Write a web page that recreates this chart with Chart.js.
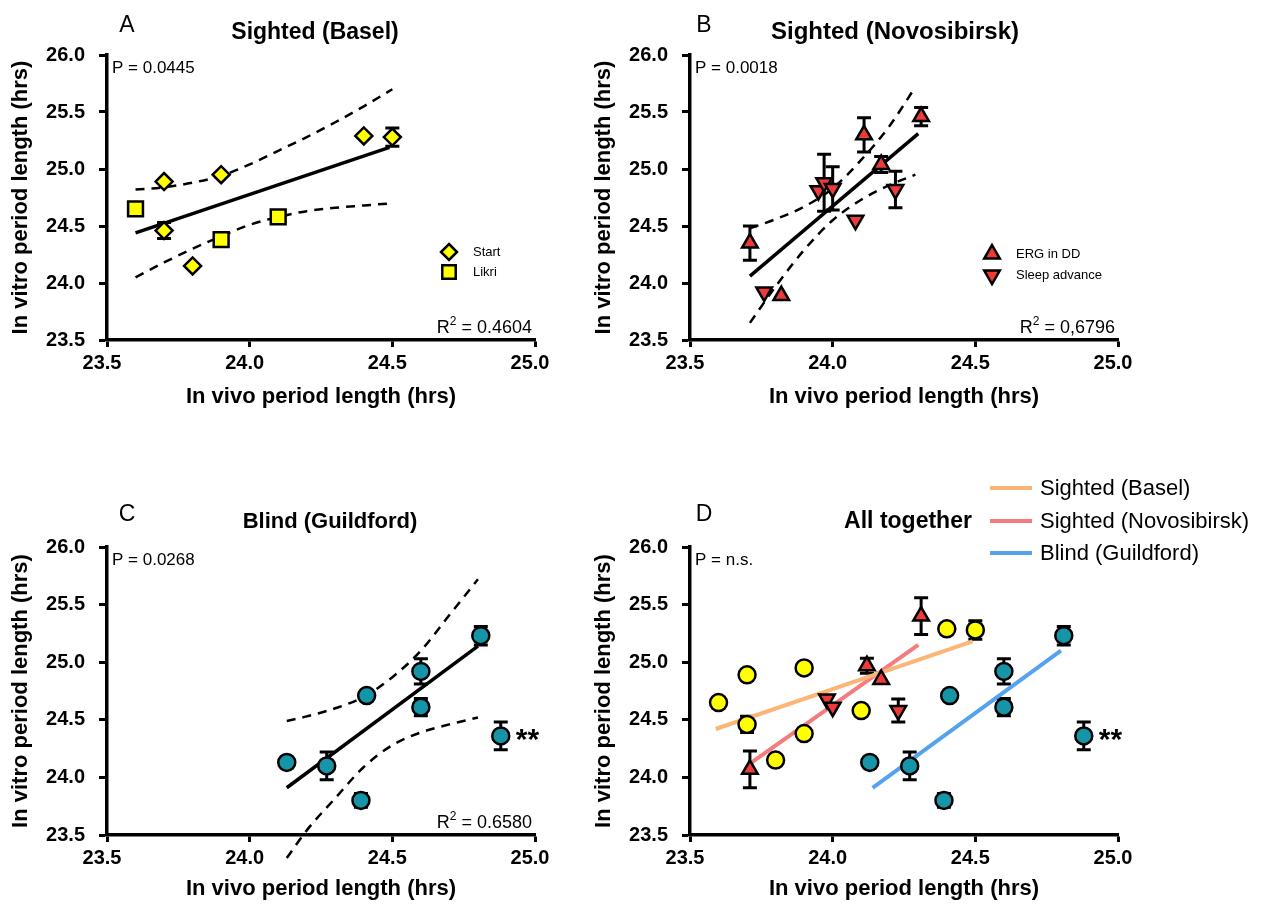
<!DOCTYPE html>
<html>
<head>
<meta charset="utf-8">
<script src="https://cdn.jsdelivr.net/npm/chart.js@4.4.1/dist/chart.umd.min.js"></script>
<style>
  body { margin: 0; background: #fff; width: 1263px; height: 908px; overflow: hidden; position: relative; }
  .panel { position: absolute; }
</style>
</head>
<body>
<div class="panel" style="left:0;top:0;width:583px;height:454px"><canvas id="chartA"></canvas></div>
<div class="panel" style="left:583px;top:0;width:680px;height:454px"><canvas id="chartB"></canvas></div>
<div class="panel" style="left:0;top:454px;width:583px;height:454px"><canvas id="chartC"></canvas></div>
<div class="panel" style="left:583px;top:454px;width:680px;height:454px"><canvas id="chartD"></canvas></div>
<script>
// ---------- A: Sighted (Basel) ----------
var baselStartX = [23.70, 23.70, 23.90, 23.80, 24.40, 24.50];
var baselStartY = [24.89, 24.46, 24.95, 24.15, 25.29, 25.28];
var baselStartErr = [0, 0.07, 0, 0, 0, 0.08];
var baselLikriX = [23.60, 23.90, 24.10];
var baselLikriY = [24.65, 24.38, 24.58];
var baselLikriErr = [0, 0, 0];
var baselFitX = [23.60, 24.49];
var baselFitY = [24.44, 25.19];
var baselCiX = [23.6, 23.7, 23.8, 23.9, 24.0, 24.1, 24.2, 24.3, 24.4, 24.5];
var baselCiUp = [24.82, 24.84, 24.88, 24.94, 25.04, 25.16, 25.28, 25.41, 25.55, 25.70];
var baselCiLow = [24.05, 24.18, 24.30, 24.41, 24.51, 24.58, 24.63, 24.66, 24.68, 24.70];

// ---------- B: Sighted (Novosibirsk) ----------
var novErgX = [23.71, 23.82, 24.11, 24.17, 24.31];
var novErgY = [24.35, 23.89, 25.30, 25.04, 25.46];
var novErgErr = [0.15, 0, 0.15, 0.07, 0.08];
var novSleepX = [23.76, 23.95, 23.97, 24.00, 24.08, 24.22];
var novSleepY = [23.92, 24.81, 24.88, 24.83, 24.55, 24.82];
var novSleepErr = [0, 0, 0.25, 0.19, 0, 0.16];
var novFitX = [23.71, 24.30];
var novFitY = [24.06, 25.31];
var novCiX = [23.71, 23.8, 23.9, 24.0, 24.1, 24.2, 24.29];
var novCiUp = [24.48, 24.56, 24.67, 24.83, 25.08, 25.38, 25.72];
var novCiLow = [23.65, 23.97, 24.29, 24.55, 24.73, 24.86, 24.95];

// ---------- C: Blind (Guildford) ----------
var blindX = [24.13, 24.27, 24.39, 24.41, 24.60, 24.60, 24.81, 24.88];
var blindY = [24.13, 24.10, 23.80, 24.71, 24.92, 24.61, 25.23, 24.36];
var blindErr = [0, 0.12, 0.06, 0, 0.11, 0.075, 0.08, 0.12];
var blindFitX = [24.13, 24.80];
var blindFitY = [23.91, 25.14];
var blindCiX = [24.13, 24.2, 24.3, 24.4, 24.5, 24.6, 24.7, 24.8];
var blindCiUp = [24.49, 24.53, 24.60, 24.70, 24.87, 25.10, 25.41, 25.72];
var blindCiLow = [23.30, 23.54, 23.82, 24.09, 24.28, 24.39, 24.46, 24.52];

// ---------- D: All together ----------
var allErgX = [23.71, 24.12, 24.17, 24.31];
var allErgY = [24.07, 24.97, 24.85, 25.40];
var allErgErr = [0.16, 0.065, 0, 0.16];
var allSleepX = [23.98, 24.00, 24.23];
var allSleepY = [24.68, 24.61, 24.58];
var allSleepErr = [0, 0, 0.10];
var lineBaselX = [23.59, 24.49];
var lineBaselY = [24.42, 25.18];
var lineNovX = [23.71, 24.30];
var lineNovY = [24.12, 25.15];
var lineBlindX = [24.14, 24.80];
var lineBlindY = [23.91, 25.10];

var FONT = "'Liberation Sans', Arial, Helvetica, sans-serif";
var YELLOW = "#ffff00", RED = "#ee3a3a", TEAL = "#1795a8";
Chart.defaults.font.family = FONT;
Chart.defaults.color = "#000";

function pts(xs, ys) {
  return xs.map(function (x, i) { return { x: x, y: ys[i] }; });
}

function marks(label, xs, ys, errs, style, color, radius, rotation) {
  return {
    label: label,
    data: pts(xs, ys),
    errors: errs,
    pointStyle: style,
    rotation: rotation || 0,
    pointRadius: radius,
    pointHoverRadius: radius,
    backgroundColor: color,
    borderColor: "#000",
    borderWidth: 2.5,
    showLine: false
  };
}

function line(xs, ys, color, width, dashed) {
  return {
    data: pts(xs, ys),
    showLine: true,
    borderColor: color,
    borderWidth: width,
    borderDash: dashed ? [9, 7] : [],
    pointRadius: 0,
    pointHoverRadius: 0,
    cubicInterpolationMode: dashed ? "monotone" : "default",
    fill: false,
    clip: false
  };
}

// vertical error bars with caps, drawn under the markers
var errorBars = {
  id: "errorBars",
  beforeDatasetsDraw: function (chart) {
    var ctx = chart.ctx, sx = chart.scales.x, sy = chart.scales.y;
    ctx.save();
    ctx.strokeStyle = "#000";
    ctx.lineWidth = 3;
    chart.data.datasets.forEach(function (ds) {
      if (!ds.errors) return;
      ds.data.forEach(function (p, i) {
        var e = ds.errors[i];
        if (!e) return;
        var px = sx.getPixelForValue(p.x);
        var top = sy.getPixelForValue(p.y + e);
        var bot = sy.getPixelForValue(p.y - e);
        ctx.beginPath();
        ctx.moveTo(px, top); ctx.lineTo(px, bot);
        ctx.moveTo(px - 7, top); ctx.lineTo(px + 7, top);
        ctx.moveTo(px - 7, bot); ctx.lineTo(px + 7, bot);
        ctx.stroke();
      });
    });
    ctx.restore();
  }
};

function drawMarker(ctx, style, x, y, r, fill) {
  ctx.beginPath();
  if (style == "diamond") {
    ctx.moveTo(x, y - r); ctx.lineTo(x + r, y); ctx.lineTo(x, y + r); ctx.lineTo(x - r, y);
  } else if (style == "square") {
    ctx.rect(x - r * 0.707, y - r * 0.707, r * 1.414, r * 1.414);
  } else if (style == "up") {
    ctx.moveTo(x, y - r); ctx.lineTo(x + r * 0.866, y + r * 0.5); ctx.lineTo(x - r * 0.866, y + r * 0.5);
  } else {
    ctx.moveTo(x, y + r); ctx.lineTo(x + r * 0.866, y - r * 0.5); ctx.lineTo(x - r * 0.866, y - r * 0.5);
  }
  ctx.closePath();
  ctx.fillStyle = fill;
  ctx.fill();
  ctx.lineWidth = 2.5;
  ctx.strokeStyle = "#000";
  ctx.stroke();
}

// letters, titles, P / R2 labels and the small legends
var panelText = {
  id: "panelText",
  afterDraw: function (chart, args, o) {
    var ctx = chart.ctx, a = chart.chartArea;
    ctx.save();
    ctx.fillStyle = "#000";
    ctx.textBaseline = "alphabetic";
    ctx.textAlign = "center";
    ctx.font = "23px " + FONT;
    ctx.fillText(o.letter, o.letterX, o.titleY - 7);
    ctx.font = "bold " + o.titleSize + "px " + FONT;
    ctx.fillText(o.title, o.titleX, o.titleY);

    ctx.textAlign = "left";
    ctx.font = "17px " + FONT;
    ctx.fillText(o.p, a.left + 5, a.top + 18);

    if (o.r2) {
      ctx.font = "18px " + FONT;
      var rest = " = " + o.r2;
      var wR = ctx.measureText("R").width, wRest = ctx.measureText(rest).width;
      ctx.font = "12px " + FONT;
      var w2 = ctx.measureText("2").width;
      var x0 = a.right - 3 - wR - w2 - wRest, base = a.bottom - 7;
      ctx.font = "18px " + FONT;
      ctx.fillText("R", x0, base);
      ctx.fillText(rest, x0 + wR + w2, base);
      ctx.font = "12px " + FONT;
      ctx.fillText("2", x0 + wR, base - 8);
    }

    if (o.legend) {
      o.legend.forEach(function (it) {
        drawMarker(ctx, it.style, it.x, it.y, it.r, it.color);
        ctx.fillStyle = "#000";
        ctx.font = "13px " + FONT;
        ctx.textBaseline = "middle";
        ctx.fillText(it.text, it.x + 24, it.y);
      });
    }

    if (o.lineLegend) {
      o.lineLegend.forEach(function (it) {
        ctx.strokeStyle = it.color;
        ctx.lineWidth = 4;
        ctx.beginPath();
        ctx.moveTo(it.x, it.y); ctx.lineTo(it.x + 42, it.y);
        ctx.stroke();
        ctx.fillStyle = "#000";
        ctx.font = "22px " + FONT;
        ctx.textBaseline = "middle";
        ctx.fillText(it.text, it.x + 50, it.y + 1);
      });
    }

    if (o.stars) {
      var p = chart.data.datasets[o.stars.dataset].data[o.stars.index];
      ctx.font = "bold 30px " + FONT;
      ctx.textBaseline = "middle";
      ctx.fillText("**", chart.scales.x.getPixelForValue(p.x) + 15, chart.scales.y.getPixelForValue(p.y) + 5);
    }
    ctx.restore();
  }
};

function makeChart(id, datasets, padTop, padRight, xTitlePad, panel) {
  return new Chart(document.getElementById(id), {
    type: "scatter",
    data: { datasets: datasets },
    plugins: [errorBars, panelText],
    options: {
      responsive: true,
      maintainAspectRatio: false,
      animation: false,
      events: [],
      layout: { padding: { top: padTop, right: padRight, left: 0, bottom: 0 } },
      plugins: { legend: { display: false }, tooltip: { enabled: false }, panelText: panel },
      scales: {
        x: {
          type: "linear", min: 23.5, max: 25,
          afterFit: function (s) { s.height = 454 - padTop - (padTop == 55 ? 285 : 288); },
          ticks: { stepSize: 0.5, padding: 4, labelOffset: -5, font: { size: 20, weight: "bold" }, color: "#000",
                   callback: function (v) { return v.toFixed(1); } },
          grid: { drawOnChartArea: false, drawTicks: true, tickLength: 7, tickWidth: 3, tickColor: "#000" },
          border: { display: true, color: "#000", width: 3.5 },
          title: { display: true, text: "In vivo period length (hrs)", color: "#000",
                   font: { size: 22, weight: "bold" }, padding: { top: 0, bottom: xTitlePad } }
        },
        y: {
          type: "linear", min: 23.5, max: 26,
          afterFit: function (s) { s.width = 107; },
          ticks: { stepSize: 0.5, padding: 14, font: { size: 20, weight: "bold" }, color: "#000",
                   callback: function (v) { return v.toFixed(1); } },
          grid: { drawOnChartArea: false, drawTicks: true, tickLength: 8, tickWidth: 3, tickColor: "#000" },
          border: { display: true, color: "#000", width: 3.5 },
          title: { display: true, text: "In vitro period length (hrs)", color: "#000",
                   font: { size: 22, weight: "bold" }, padding: { top: 8, bottom: 0 } }
        }
      }
    }
  });
}

makeChart("chartA", [
  marks("Start", baselStartX, baselStartY, baselStartErr, "rectRot", YELLOW, 8.5),
  marks("Likri", baselLikriX, baselLikriY, baselLikriErr, "rect", YELLOW, 10.5),
  line(baselFitX, baselFitY, "#000", 3.5, false),
  line(baselCiX, baselCiUp, "#000", 2.5, true),
  line(baselCiX, baselCiLow, "#000", 2.5, true)
], 55, 48, 44, {
  letter: "A", letterX: 127, title: "Sighted (Basel)", titleSize: 23, titleX: 315, titleY: 39,
  p: "P = 0.0445", r2: "0.4604",
  legend: [
    { style: "diamond", x: 449, y: 252, r: 8, color: YELLOW, text: "Start" },
    { style: "square", x: 449, y: 272, r: 9.5, color: YELLOW, text: "Likri" }
  ]
});

makeChart("chartB", [
  marks("ERG in DD", novErgX, novErgY, novErgErr, "triangle", RED, 9),
  marks("Sleep advance", novSleepX, novSleepY, novSleepErr, "triangle", RED, 9, 180),
  line(novFitX, novFitY, "#000", 3.5, false),
  line(novCiX, novCiUp, "#000", 2.5, true),
  line(novCiX, novCiLow, "#000", 2.5, true)
], 55, 145, 44, {
  letter: "B", letterX: 121, title: "Sighted (Novosibirsk)", titleSize: 24, titleX: 312, titleY: 39,
  p: "P = 0.0018", r2: "0,6796",
  legend: [
    { style: "up", x: 409, y: 254, r: 9, color: RED, text: "ERG in DD" },
    { style: "down", x: 409, y: 275, r: 9, color: RED, text: "Sleep advance" }
  ]
});

makeChart("chartC", [
  marks("Blind", blindX, blindY, blindErr, "circle", TEAL, 8.5),
  line(blindFitX, blindFitY, "#000", 3.5, false),
  line(blindCiX, blindCiUp, "#000", 2.5, true),
  line(blindCiX, blindCiLow, "#000", 2.5, true)
], 93, 48, 6, {
  letter: "C", letterX: 127, title: "Blind (Guildford)", titleSize: 22, titleX: 330, titleY: 74,
  p: "P = 0.0268", r2: "0.6580",
  stars: { dataset: 0, index: 7 }
});

makeChart("chartD", [
  marks("Blind", blindX, blindY, blindErr, "circle", TEAL, 8.5),
  marks("Start", baselStartX, baselStartY, baselStartErr, "circle", YELLOW, 8.5),
  marks("Likri", baselLikriX, baselLikriY, baselLikriErr, "circle", YELLOW, 8.5),
  marks("ERG in DD", allErgX, allErgY, allErgErr, "triangle", RED, 9),
  marks("Sleep advance", allSleepX, allSleepY, allSleepErr, "triangle", RED, 9, 180),
  line(lineBaselX, lineBaselY, "#fbb677", 4, false),
  line(lineNovX, lineNovY, "#f47c7c", 4, false),
  line(lineBlindX, lineBlindY, "#55a2ee", 4, false)
], 93, 145, 6, {
  letter: "D", letterX: 121, title: "All together", titleSize: 23, titleX: 325, titleY: 74,
  p: "P = n.s.",
  stars: { dataset: 0, index: 7 },
  lineLegend: [
    { color: "#fbb677", x: 407, y: 34, text: "Sighted (Basel)" },
    { color: "#f47c7c", x: 407, y: 67, text: "Sighted (Novosibirsk)" },
    { color: "#55a2ee", x: 407, y: 99, text: "Blind (Guildford)" }
  ]
});
</script>
</body>
</html>
